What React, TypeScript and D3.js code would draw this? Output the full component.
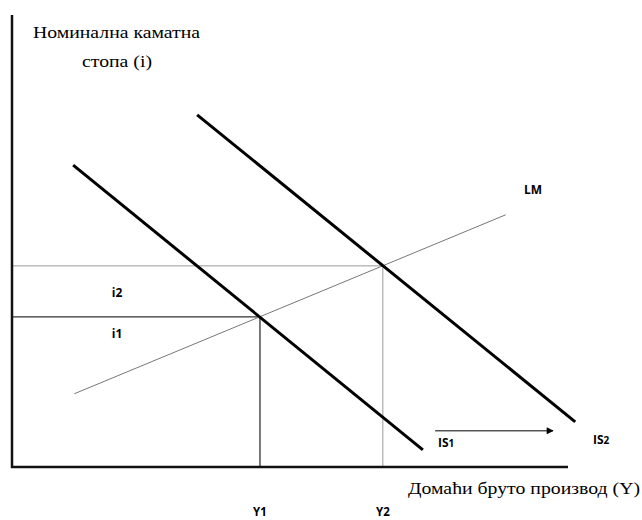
// App.tsx
// IS-LM shift diagram: the IS curve moves right (IS1 -> IS2) along a fixed LM,
// raising output from Y1 to Y2 and the interest rate from i1 to i2.
import React from 'react';
import { scaleLinear, line as d3Line } from 'd3';

type Pt = [number, number];

// abstract units: output 0..100 along the axis, interest 0..100 up the axis
const outputLevels = [44.6, 66.7];
const outputLabels = ['Y1', 'Y2'];
const rateLevels = [33.2, 44.5];
const rateLabels = ['i1', 'i2'];

const is1: Pt[] = [[11.0, 66.8], [73.9, 3.8]];
const is2: Pt[] = [[33.3, 77.9], [101.3, 10.0]];
const lm: Pt[] = [[11.2, 16.2], [88.8, 55.8]];
const shiftArrow: Pt[] = [[76.1, 8.0], [97.3, 8.0]];

const yTitle = ['Номинална каматна', 'стопа (i)'];
const xTitle = 'Домаћи бруто производ (Y)';

const W = 642;
const H = 520;

const serif = '"Liberation Serif", "DejaVu Serif", serif';
const sans = '"Open Sans", "Liberation Sans", sans-serif';

export default function App() {
  const x = scaleLinear().domain([0, 100]).range([12, 568]);
  const y = scaleLinear().domain([0, 100]).range([467, 15]);

  const path = d3Line<Pt>()
    .x((d) => x(d[0]))
    .y((d) => y(d[1]));

  const [x0, x1] = x.range();
  const [yBottom, yTop] = y.range();

  return (
    <div style={{ position: 'fixed', left: 0, top: 0 }}>
      <svg width={W} height={H} style={{ display: 'block', background: '#fff' }}>
        <defs>
          <marker
            id="head"
            viewBox="0 0 10 10"
            refX="9"
            refY="5"
            markerWidth="9"
            markerHeight="7"
            markerUnits="userSpaceOnUse"
            orient="auto"
          >
            <path d="M0,0 L10,5 L0,10 z" fill="#000" />
          </marker>
        </defs>

        {/* guide lines for the two equilibria */}
        <line
          x1={x0}
          x2={x(outputLevels[1])}
          y1={y(rateLevels[1])}
          y2={y(rateLevels[1])}
          stroke="#9a9a9a"
          strokeWidth={1}
        />
        <line
          x1={x(outputLevels[1])}
          x2={x(outputLevels[1])}
          y1={y(rateLevels[1])}
          y2={yBottom}
          stroke="#9a9a9a"
          strokeWidth={1}
        />
        <line
          x1={x0}
          x2={x(outputLevels[0])}
          y1={y(rateLevels[0])}
          y2={y(rateLevels[0])}
          stroke="#333"
          strokeWidth={1.2}
        />
        <line
          x1={x(outputLevels[0])}
          x2={x(outputLevels[0])}
          y1={y(rateLevels[0])}
          y2={yBottom}
          stroke="#222"
          strokeWidth={1.2}
        />

        {/* curves */}
        <path d={path(lm) || ''} fill="none" stroke="#777" strokeWidth={1} />
        <path d={path(is1) || ''} fill="none" stroke="#000" strokeWidth={3} />
        <path d={path(is2) || ''} fill="none" stroke="#000" strokeWidth={3} />
        <path
          d={path(shiftArrow) || ''}
          fill="none"
          stroke="#000"
          strokeWidth={1}
          markerEnd="url(#head)"
        />

        {/* axes */}
        <line x1={x0} x2={x0} y1={yTop} y2={yBottom + 1} stroke="#111" strokeWidth={2.5} />
        <line x1={x0 - 1} x2={x1} y1={yBottom} y2={yBottom} stroke="#111" strokeWidth={2.5} />

        {/* labels */}
        <g fontFamily={sans} fontWeight="bold" fontSize={12} fill="#000">
          <text x={533} y={194} textAnchor="middle">LM</text>
          <text x={438} y={447}>
            IS<tspan fontSize={10}>1</tspan>
          </text>
          <text x={593} y={444}>
            IS<tspan fontSize={10}>2</tspan>
          </text>
          {rateLevels.map((r, i) => (
            <text key={rateLabels[i]} x={117} y={y(r) - (i === 0 ? -21 : -31)} textAnchor="middle">
              {rateLabels[i]}
            </text>
          ))}
          {outputLevels.map((v, i) => (
            <text key={outputLabels[i]} x={x(v)} y={516} fontSize={11.5} textAnchor="middle">
              {outputLabels[i]}
            </text>
          ))}
        </g>

        <g fontFamily={serif} fontSize={16} fill="#000">
          <text x={33} y={38} textLength={167} lengthAdjust="spacingAndGlyphs">
            {yTitle[0]}
          </text>
          <text x={82} y={67} textLength={70} lengthAdjust="spacingAndGlyphs">
            {yTitle[1]}
          </text>
          <text x={408} y={494} textLength={232} lengthAdjust="spacingAndGlyphs">
            {xTitle}
          </text>
        </g>
      </svg>
    </div>
  );
}
